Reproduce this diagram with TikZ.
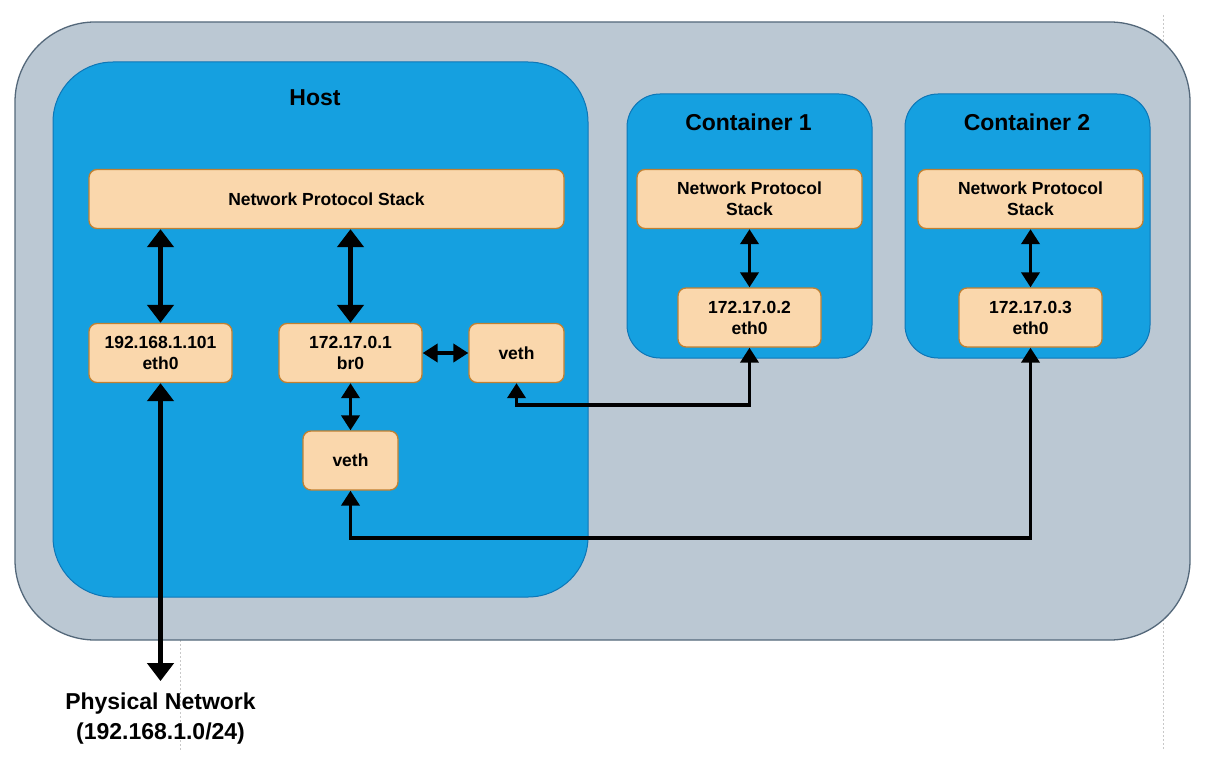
\documentclass[tikz,border=0pt]{standalone}
\usepackage{fontspec}
\setmainfont{Liberation Sans}
\definecolor{outerfill}{RGB}{187, 200, 211}
\definecolor{outerline}{RGB}{84, 104, 122}
\definecolor{hostfill}{RGB}{21, 160, 224}
\definecolor{hostline}{RGB}{14, 118, 182}
\definecolor{boxfill}{RGB}{250, 215, 172}
\definecolor{boxline}{RGB}{194, 128, 48}
\definecolor{pageline}{RGB}{200, 200, 200}
\usetikzlibrary{arrows.meta, positioning, calc}
\newcommand{\ifacefont}{\fontsize{17.5}{21}\selectfont\bfseries}
\newcommand{\hdrfont}{\fontsize{23}{30}\selectfont\bfseries}
\tikzset{
  ifbox/.style={draw=boxline, fill=boxfill, line width=1.3pt, rounded corners=8pt,
    minimum height=59pt, inner sep=2pt, align=center, font=\ifacefont},
  hdr/.style={font=\hdrfont, align=center},
  biglink/.style={line width=5.5pt, {Triangle[length=18pt, width=26pt]}-{Triangle[length=18pt, width=26pt]}},
  link/.style={line width=3.8pt, {Triangle[length=15pt, width=18pt]}-{Triangle[length=15pt, width=18pt]}},
}

\begin{document}
\begin{tikzpicture}[x=1pt, y=-1pt]
  \useasboundingbox (0,0) rectangle (1222,765);

  % page breaks
  \draw[pageline, line width=0.8pt, dash pattern=on 2pt off 2pt] (1163,15) -- (1163,750);
  \draw[pageline, line width=0.8pt, dash pattern=on 2pt off 2pt] (180,640) -- (180,750);

  % Outer box
  \draw[outerline, fill=outerfill, line width=1.3pt, rounded corners=80pt] (15,22) rectangle (1190,640);

  % Host
  \draw[hostline, fill=hostfill, line width=1pt, rounded corners=60pt] (53,62) rectangle (588,597);
  \node[hdr] (hosttitle) at (315,98) {Host};
  \node[ifbox, minimum width=475pt] (hnps) at (326.5,199) {Network Protocol Stack};
  \node[ifbox, minimum width=143pt] (heth) at (160.5,353) {192.168.1.101\\eth0};
  \node[ifbox, minimum width=143pt] (hbr) at (350.5,353) {172.17.0.1\\br0};
  \node[ifbox, minimum width=95pt] (vetha) at (516.5,353) {veth};
  \node[ifbox, minimum width=95pt] (vethb) at (350.5,460.5) {veth};

  % Container 1
  \draw[hostline, fill=hostfill, line width=1pt, rounded corners=33pt] (627,94) rectangle (872,358);
  \node[hdr] (atitle) at (748.5,122) {Container 1};
  \node[ifbox, minimum width=225pt] (anps) at (749.5,199) {Network Protocol\\Stack};
  \node[ifbox, minimum width=143pt] (aeth) at (749.5,317.5) {172.17.0.2\\eth0};

  % Container 2
  \draw[hostline, fill=hostfill, line width=1pt, rounded corners=33pt] (905,94) rectangle (1150,358);
  \node[hdr] (btitle) at (1027,122) {Container 2};
  \node[ifbox, minimum width=225pt] (bnps) at (1030.5,199) {Network Protocol\\Stack};
  \node[ifbox, minimum width=143pt] (beth) at (1030.5,317.5) {172.17.0.3\\eth0};

  % Physical network
  \node[hdr, inner ysep=12pt] (phys) at (160.5,719) {Physical Network\\(192.168.1.0/24)};

  % Links
  \draw[biglink] (heth.north) -- (heth.north |- hnps.south);
  \draw[biglink] (hbr.north) -- (hbr.north |- hnps.south);
  \draw[biglink] (heth.south) -- (phys.north);
  \draw[link] (hbr) -- (vetha);
  \draw[link] (hbr) -- (vethb);
  \draw[link] (anps) -- (aeth);
  \draw[link] (bnps) -- (beth);
  \draw[link] (vetha.south) -- ++(0,22) -| (aeth.south);
  \draw[link] (vethb.south) -- ++(0,47) -| (beth.south);
\end{tikzpicture}
\end{document}
